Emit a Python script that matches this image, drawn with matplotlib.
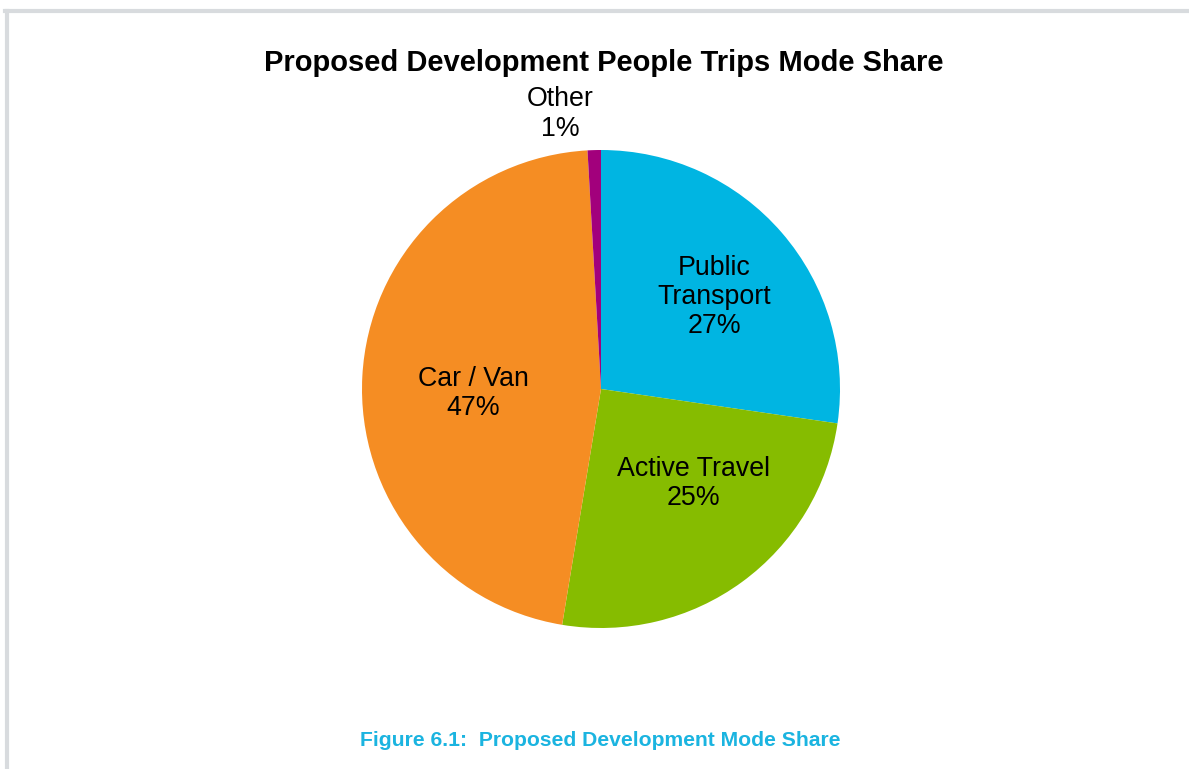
import matplotlib.pyplot as plt
from matplotlib.lines import Line2D

plt.rcParams['font.family'] = ['Liberation Sans', 'DejaVu Sans']

# mode share values (percent)
modes = ['Public\nTransport', 'Active Travel', 'Car / Van', 'Other']
shares = [27.3, 25.3, 46.5, 0.9]
share_labels = ['27%', '25%', '47%', '1%']
colours = ['#00B5E2', '#86BC00', '#F58D23', '#A2007C']

# label positions in pie units (Excel places these by hand)
label_pos = [(0.475, 0.385), (0.385, -0.395), (-0.535, -0.02), (-0.17, 1.15)]

W, H = 1189, 769
fig = plt.figure(figsize=(W / 100, H / 100), dpi=100)

# pie centred at (601, 389) px with radius 239 px
cx, cy, r = 601, 389, 239
ax = fig.add_axes([(cx - r) / W, (H - cy - r) / H, 2 * r / W, 2 * r / H])
ax.pie(shares, colors=colours, startangle=90, counterclock=False,
       radius=1, wedgeprops=dict(linewidth=0))
ax.set_xlim(-1, 1)
ax.set_ylim(-1, 1)
ax.set_aspect('equal')
ax.axis('off')

for name, pct, (x, y) in zip(modes, share_labels, label_pos):
    ax.text(x, y, name + '\n' + pct, ha='center', va='center',
            fontsize=19.3, linespacing=1.17, clip_on=False)

fig.text(604 / W, 1 - 63 / H, 'Proposed Development People Trips Mode Share',
         ha='center', va='center', fontsize=21, fontweight='bold')
fig.text(600 / W, 1 - 741 / H, 'Figure 6.1:  Proposed Development Mode Share',
         ha='center', va='center', fontsize=15.2, fontweight='bold', color='#1BB4E0')

# grey frame lines (top and left)
fig.add_artist(Line2D([5 / W, 1], [1 - 10.5 / H, 1 - 10.5 / H], color='#D8DBDE', lw=3))
fig.add_artist(Line2D([6.5 / W, 6.5 / W], [0, 1 - 10.5 / H], color='#D8DBDE', lw=3))

fig.savefig('out.png', dpi=100)
